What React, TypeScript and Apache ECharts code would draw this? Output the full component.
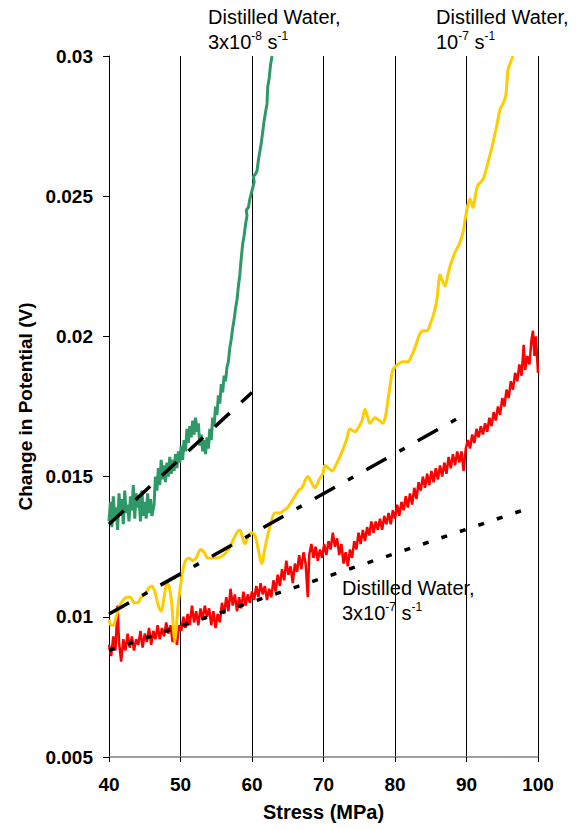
import React, { useEffect, useRef } from "react";
import * as echarts from "echarts";

const xTicks = [40, 50, 60, 70, 80, 90, 100];
const yTicks = [0.005, 0.01, 0.015, 0.02, 0.025, 0.03];

// Distilled Water, 3x10^-8 s^-1 (green)
const greenData: [number, number][] = [
  [40.0,0.0134],[40.2,0.0141],[40.4,0.0132],[40.6,0.0143],[40.8,0.0135],[41.0,0.0139],[41.2,0.0131],[41.4,0.0144],[41.6,0.0136],[41.8,0.0142],
  [42.0,0.0133],[42.2,0.0145],[42.4,0.0137],[42.6,0.0140],[42.8,0.0134],[43.0,0.0143],[43.2,0.0138],[43.4,0.0147],[43.6,0.0135],[43.8,0.0144],
  [44.0,0.0139],[44.2,0.0142],[44.4,0.0134],[44.6,0.0145],[44.8,0.0136],[45.0,0.0141],[45.2,0.0135],[45.4,0.0144],[45.6,0.0137],[45.8,0.0142],
  [46.0,0.0136],[46.3,0.0140],[46.5,0.0150],[46.7,0.0145],[46.9,0.0153],[47.1,0.0147],[47.3,0.0156],[47.5,0.0149],[47.7,0.0154],[47.9,0.0148],
  [48.1,0.0155],[48.3,0.0150],[48.5,0.0157],[48.7,0.0151],[48.9,0.0156],[49.1,0.0152],[49.3,0.0158],[49.5,0.0153],[49.7,0.0159],[49.9,0.0155],
  [50.1,0.0161],[50.3,0.0156],[50.5,0.0163],[50.7,0.0159],[50.9,0.0167],[51.1,0.0162],[51.3,0.0168],[51.5,0.0164],[51.7,0.0170],[51.9,0.0165],
  [52.1,0.0171],[52.3,0.0166],[52.5,0.0169],[52.7,0.0161],[52.9,0.0165],[53.1,0.0159],[53.3,0.0163],[53.5,0.0158],[53.7,0.0164],[53.9,0.0160],
  [54.1,0.0167],[54.3,0.0163],[54.5,0.0171],[54.7,0.0168],[54.9,0.0175],[55.1,0.0172],[55.3,0.0179],[55.5,0.0176],[55.7,0.0183],[55.9,0.0180],
  [56.1,0.0186],[56.3,0.0184],[56.5,0.0189],[56.7,0.0191],[56.9,0.0196],[57.1,0.0199],[57.3,0.0203],[57.5,0.0206],[57.7,0.0210],[57.9,0.0213],
  [58.1,0.0218],[58.3,0.0222],[58.5,0.0228],[58.7,0.0233],[58.9,0.0236],[59.1,0.0240],[59.3,0.0243],[59.2,0.0245],[59.5,0.0246],[59.7,0.0249],
  [59.9,0.0251],[60.1,0.0253],[60.3,0.0255],[60.2,0.0257],[60.5,0.0258],[60.7,0.0259],[60.9,0.0263],[61.1,0.0266],[61.3,0.0269],[61.5,0.0273],
  [61.7,0.0277],[61.9,0.0280],[62.1,0.0283],[62.2,0.0289],[62.4,0.0292],[62.6,0.0297],[62.8,0.0300]
];

// Distilled Water, 10^-7 s^-1 (yellow)
const yellowData: [number, number][] = [
  [40.0,0.0099],[40.3,0.0097],[40.6,0.0097],[41.0,0.0100],[41.5,0.0104],[42.0,0.0106],[42.5,0.0107],[43.0,0.0107],[43.5,0.0105],[44.0,0.0105],
  [44.5,0.0107],[45.0,0.0108],[45.5,0.0110],[46.0,0.0111],[46.4,0.0109],[46.9,0.0104],[47.3,0.0102],[47.7,0.0107],[48.1,0.0112],[48.4,0.0111],
  [48.8,0.0104],[49.0,0.0096],[49.2,0.0091],[49.4,0.0096],[49.7,0.0105],[50.0,0.0111],[50.3,0.0116],[50.7,0.0120],[51.2,0.0121],[51.7,0.0120],
  [52.2,0.0121],[52.8,0.0124],[53.3,0.0123],[53.8,0.0121],[54.4,0.0121],[55.2,0.0121],[56.0,0.0122],[56.7,0.0124],[57.3,0.0127],[57.9,0.0130],
  [58.3,0.0131],[58.7,0.0128],[59.0,0.0126],[59.5,0.0129],[60.0,0.0130],[60.4,0.0129],[60.8,0.0125],[61.2,0.0120],[61.4,0.0119],[61.7,0.0123],
  [62.1,0.0128],[62.6,0.0133],[63.2,0.0137],[63.9,0.0137],[64.5,0.0138],[65.0,0.0139],[65.5,0.0141],[66.0,0.0143],[66.5,0.0145],[67.0,0.0146],
  [67.5,0.0149],[67.8,0.0150],[68.3,0.0148],[68.8,0.0146],[69.4,0.0149],[69.9,0.0151],[70.2,0.0154],[70.7,0.0153],[71.2,0.0152],[71.9,0.0155],
  [72.6,0.0159],[73.2,0.0163],[73.7,0.0167],[74.4,0.0166],[75.0,0.0168],[75.4,0.0170],[75.8,0.0174],[76.1,0.0172],[76.5,0.0169],[77.2,0.0171],
  [77.8,0.0170],[78.3,0.0169],[78.7,0.0172],[79.0,0.0177],[79.4,0.0184],[79.7,0.0188],[80.4,0.0190],[81.1,0.0191],[81.8,0.0191],[82.3,0.0193],
  [82.8,0.0196],[83.5,0.0201],[84.0,0.0202],[84.5,0.0202],[85.0,0.0205],[85.3,0.0207],[85.7,0.0211],[85.9,0.0214],[86.3,0.0222],[86.6,0.0220],
  [87.0,0.0218],[87.4,0.0222],[87.7,0.0225],[88.4,0.0230],[89.0,0.0233],[89.5,0.0237],[89.9,0.0243],[90.2,0.0247],[90.5,0.0249],[90.9,0.0246],
  [91.3,0.0251],[91.6,0.0254],[92.3,0.0256],[93.0,0.0262],[93.7,0.0269],[94.3,0.0276],[94.7,0.0281],[95.1,0.0283],[95.5,0.0286],[95.8,0.0295],
  [96.2,0.0298],[96.5,0.0300]
];

// Distilled Water, 3x10^-7 s^-1 (red)
const redData: [number, number][] = [
  [40.0,0.0090],[40.3,0.0086],[40.6,0.0093],[40.9,0.0088],[41.2,0.0104],[41.4,0.0091],[41.7,0.0084],[42.0,0.0092],[42.3,0.0088],[42.6,0.0094],
  [42.9,0.0089],[43.2,0.0093],[43.5,0.0088],[43.8,0.0092],[44.1,0.0090],[44.4,0.0095],[44.7,0.0089],[45.0,0.0094],[45.3,0.0091],[45.6,0.0096],
  [45.9,0.0090],[46.2,0.0095],[46.5,0.0092],[46.8,0.0097],[47.1,0.0092],[47.4,0.0096],[47.7,0.0093],[48.0,0.0098],[48.3,0.0094],[48.6,0.0097],
  [48.9,0.0091],[49.2,0.0095],[49.5,0.0090],[49.8,0.0097],[50.1,0.0095],[50.4,0.0100],[50.7,0.0096],[51.0,0.0101],[51.3,0.0097],[51.6,0.0104],
  [51.9,0.0098],[52.2,0.0102],[52.5,0.0097],[52.8,0.0103],[53.1,0.0099],[53.4,0.0104],[53.7,0.0100],[54.0,0.0103],[54.3,0.0097],[54.6,0.0102],
  [54.9,0.0096],[55.2,0.0101],[55.5,0.0098],[55.8,0.0105],[56.1,0.0101],[56.4,0.0107],[56.7,0.0102],[57.0,0.0110],[57.3,0.0104],[57.6,0.0108],
  [57.9,0.0102],[58.2,0.0107],[58.5,0.0103],[58.8,0.0109],[59.1,0.0104],[59.4,0.0108],[59.7,0.0105],[60.0,0.0109],[60.3,0.0106],[60.6,0.0111],
  [60.9,0.0107],[61.2,0.0112],[61.5,0.0108],[61.8,0.0111],[62.1,0.0106],[62.4,0.0110],[62.7,0.0107],[63.0,0.0113],[63.3,0.0109],[63.6,0.0115],
  [63.9,0.0111],[64.2,0.0117],[64.5,0.0113],[64.8,0.0120],[65.1,0.0115],[65.4,0.0118],[65.7,0.0112],[66.0,0.0119],[66.3,0.0116],[66.6,0.0122],
  [66.9,0.0117],[67.2,0.0123],[67.5,0.0119],[67.8,0.0107],[68.0,0.0122],[68.3,0.0126],[68.6,0.0121],[68.9,0.0125],[69.2,0.0120],[69.5,0.0124],
  [69.8,0.0121],[70.1,0.0126],[70.4,0.0122],[70.7,0.0127],[71.0,0.0124],[71.3,0.0130],[71.6,0.0125],[71.9,0.0128],[72.2,0.0122],[72.5,0.0126],
  [72.8,0.0119],[73.1,0.0123],[73.4,0.0118],[73.7,0.0124],[74.0,0.0121],[74.3,0.0127],[74.6,0.0124],[74.9,0.0130],[75.2,0.0126],[75.5,0.0131],
  [75.8,0.0127],[76.1,0.0132],[76.4,0.0129],[76.7,0.0134],[77.0,0.0130],[77.3,0.0134],[77.6,0.0131],[77.9,0.0135],[78.2,0.0131],[78.5,0.0136],
  [78.8,0.0133],[79.1,0.0137],[79.4,0.0133],[79.7,0.0138],[80.0,0.0135],[80.3,0.0140],[80.6,0.0136],[80.9,0.0141],[81.2,0.0138],[81.5,0.0143],
  [81.8,0.0139],[82.1,0.0144],[82.4,0.0140],[82.7,0.0146],[83.0,0.0142],[83.3,0.0148],[83.6,0.0145],[83.9,0.0150],[84.2,0.0146],[84.5,0.0151],
  [84.8,0.0147],[85.1,0.0152],[85.4,0.0148],[85.7,0.0153],[86.0,0.0149],[86.3,0.0154],[86.6,0.0150],[86.9,0.0155],[87.2,0.0151],[87.5,0.0157],
  [87.8,0.0153],[88.1,0.0158],[88.4,0.0154],[88.7,0.0159],[89.0,0.0155],[89.3,0.0159],[89.6,0.0152],[89.9,0.0160],[90.2,0.0163],[90.5,0.0160],
  [90.8,0.0165],[91.1,0.0162],[91.4,0.0167],[91.7,0.0164],[92.0,0.0168],[92.3,0.0165],[92.6,0.0169],[92.9,0.0166],[93.2,0.0171],[93.5,0.0168],
  [93.8,0.0173],[94.1,0.0170],[94.4,0.0175],[94.7,0.0172],[95.0,0.0178],[95.3,0.0175],[95.6,0.0181],[95.9,0.0178],[96.2,0.0184],[96.5,0.0181],
  [96.8,0.0187],[97.1,0.0184],[97.4,0.0190],[97.7,0.0186],[98.0,0.0197],[98.2,0.0188],[98.5,0.0193],[98.8,0.0190],[99.1,0.0199],[99.3,0.0202],
  [99.5,0.0193],[99.7,0.0200],[100.0,0.0187]
];

// Linear fits (black broken lines)
const greenFit: [number, number][] = [[40, 0.0133], [60, 0.0180]];
const yellowFit: [number, number][] = [[40, 0.0101], [90, 0.01725]];
const redFit: [number, number][] = [[40, 0.0088], [99, 0.0139]];

const FONT = "'Liberation Sans', Arial, sans-serif";

function annotation(left: number, top: number, rate: string, exp: string) {
  const parts = rate ? `{n|${rate}}{s|${exp}}{n| s}{s|-1}` : `{n|10}{s|${exp}}{n| s}{s|-1}`;
  return {
    type: "text",
    left,
    top,
    style: {
      text: `{n|Distilled Water,}\n${parts}`,
      fill: "#000",
      rich: {
        n: { fontSize: 20, lineHeight: 25, fontFamily: FONT, fill: "#000" },
        s: { fontSize: 12, lineHeight: 15, verticalAlign: "top", fontFamily: FONT, fill: "#000" },
      },
    },
  };
}

export default function App() {
  const ref = useRef<HTMLDivElement>(null);
  useEffect(() => {
    if (!ref.current) return;
    const chart = echarts.init(ref.current, null, { renderer: "svg" });
    chart.setOption({
      animation: false,
      backgroundColor: "#fff",
      grid: { left: 109, right: 43, top: 56, bottom: 72, containLabel: false },
      xAxis: {
        type: "value",
        min: xTicks[0],
        max: xTicks[xTicks.length - 1],
        interval: 10,
        name: "Stress (MPa)",
        nameLocation: "middle",
        nameGap: 45,
        nameTextStyle: { fontSize: 20, fontWeight: "bold", fontFamily: FONT, color: "#000" },
        axisLine: { show: true, lineStyle: { color: "#808080", width: 1.5 } },
        axisTick: { show: true, length: 5, lineStyle: { color: "#000" } },
        axisLabel: { fontSize: 19, fontWeight: "bold", fontFamily: FONT, color: "#000", margin: 18 },
        splitLine: { show: true, lineStyle: { color: "#000", width: 1 } },
      },
      yAxis: {
        type: "value",
        min: yTicks[0],
        max: yTicks[yTicks.length - 1],
        interval: 0.005,
        name: "Change in Potential (V)",
        nameLocation: "middle",
        nameGap: 71,
        nameTextStyle: { fontSize: 19, fontWeight: "bold", fontFamily: FONT, color: "#000" },
        axisLine: { show: true, lineStyle: { color: "#000", width: 1 } },
        axisTick: { show: true, length: 6, lineStyle: { color: "#000" } },
        axisLabel: { fontSize: 19, fontWeight: "bold", fontFamily: FONT, color: "#000", margin: 16 },
        splitLine: { show: false },
      },
      series: [
        { type: "line", data: redData, showSymbol: false, lineStyle: { color: "#FF0000", width: 2.5 }, z: 2 },
        { type: "line", data: yellowData, showSymbol: false, smooth: 0.3, lineStyle: { color: "#FFCC00", width: 3 }, z: 3 },
        { type: "line", data: greenData, showSymbol: false, lineStyle: { color: "#2E9966", width: 3 }, z: 4 },
        { type: "line", data: greenFit, showSymbol: false, lineStyle: { color: "#000", width: 3.5, type: [20, 16] }, z: 5 },
        { type: "line", data: yellowFit, showSymbol: false, lineStyle: { color: "#000", width: 3.5, type: [23, 15, 6, 15] }, z: 5 },
        { type: "line", data: redFit, showSymbol: false, lineStyle: { color: "#000", width: 3.5, type: [6, 13.5] }, z: 5 },
      ],
      graphic: [
        annotation(208, 7, "3x10", "-8"),
        annotation(436, 7, "", "-7"),
        annotation(342, 578, "3x10", "-7"),
      ],
    });
    return () => chart.dispose();
  }, []);
  return <div ref={ref} style={{ width: 581, height: 829, position: "absolute", left: 0, top: 0 }} />;
}
